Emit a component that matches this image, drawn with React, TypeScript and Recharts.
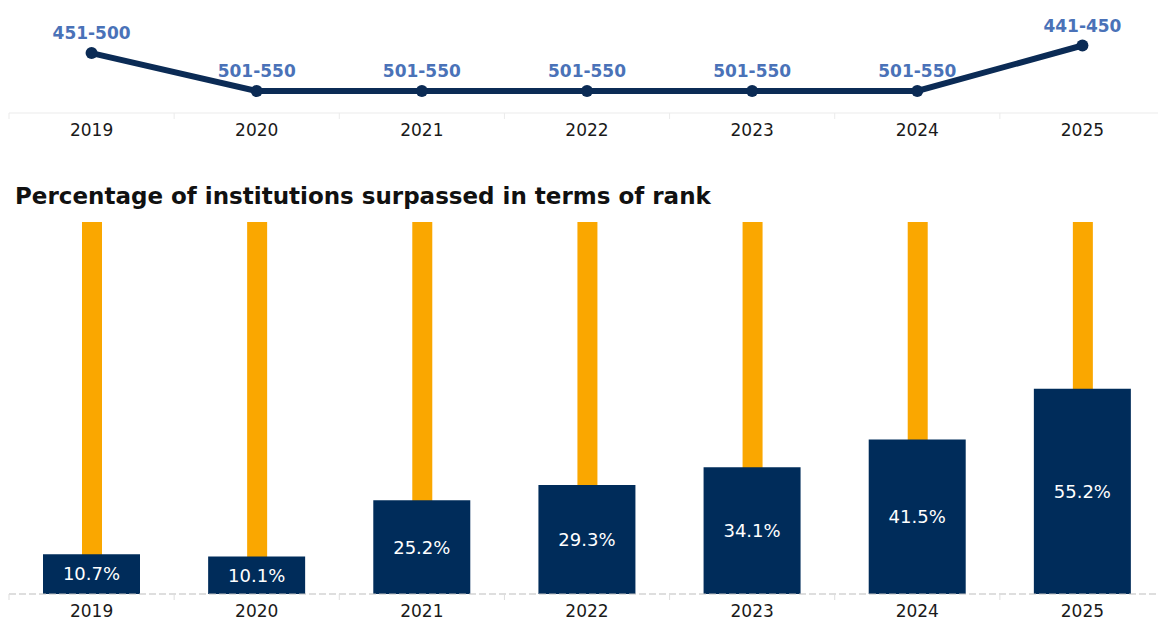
import { LineChart, Line, BarChart, Bar, XAxis, YAxis, LabelList } from 'recharts'

const years = ['2019', '2020', '2021', '2022', '2023', '2024', '2025']
// lower bound of each rank band, used for the line position
const rankLow = [451, 501, 501, 501, 501, 501, 441]
const rankLabels = ['451-500', '501-550', '501-550', '501-550', '501-550', '501-550', '441-450']
const surpassed = [10.7, 10.1, 25.2, 29.3, 34.1, 41.5, 55.2]
const fullScale = [100, 100, 100, 100, 100, 100, 100]

const rankData = years.map((year, i) => ({ year, rank: rankLow[i], label: rankLabels[i] }))
const pctData = years.map((year, i) => ({ year, pct: surpassed[i], full: fullScale[i] }))

const CHART_W = 1166
const LEFT = 9
const RIGHT = 1
const BAND = (CHART_W - LEFT - RIGHT) / years.length
const FONT = '"DejaVu Sans", Verdana, sans-serif'

function makeTick(tickColor: string) {
  return (props: any) => {
    const { x, y, payload } = props
    return (
      <g>
        <line x1={x - BAND / 2} x2={x - BAND / 2} y1={y - 8} y2={y - 2} stroke={tickColor} />
        <text x={x} y={y + 15} textAnchor="middle" fill="#1a1a1a" fontSize={17} fontFamily={FONT}>
          {payload.value}
        </text>
      </g>
    )
  }
}

function App() {
  return (
    <div
      style={{
        position: 'absolute',
        left: 0,
        top: 0,
        width: 1158,
        height: 622,
        overflow: 'hidden',
        background: '#fff',
        fontFamily: FONT,
      }}
    >
      <div style={{ position: 'absolute', left: 0, top: 0 }}>
        <LineChart width={CHART_W} height={145} data={rankData} margin={{ top: 0, right: RIGHT, left: LEFT, bottom: 0 }}>
          <XAxis
            dataKey="year"
            scale="band"
            height={32}
            axisLine={{ stroke: '#ebebeb' }}
            tickLine={false}
            tick={makeTick('#ebebeb')}
            interval={0}
          />
          <YAxis
            reversed
            domain={[381, 530]}
            width={0}
            tick={false}
            tickLine={false}
            axisLine={{ stroke: '#f0f0f0' }}
          />
          <Line
            dataKey="rank"
            stroke="#0b2b55"
            strokeWidth={6}
            dot={{ r: 6, fill: '#0b2b55', stroke: '#0b2b55', strokeWidth: 0 }}
            isAnimationActive={false}
          >
            <LabelList
              dataKey="label"
              position="top"
              offset={14}
              fill="#4a72b8"
              fontSize={17}
              fontWeight="bold"
              fontFamily={FONT}
            />
          </Line>
        </LineChart>
      </div>

      <div
        style={{
          position: 'absolute',
          left: 15,
          top: 182,
          fontSize: 23,
          lineHeight: '28px',
          fontWeight: 'bold',
          color: '#111',
          whiteSpace: 'nowrap',
        }}
      >
        Percentage of institutions surpassed in terms of rank
      </div>

      <div style={{ position: 'absolute', left: 0, top: 212 }}>
        <BarChart width={CHART_W} height={410} data={pctData} margin={{ top: 10, right: RIGHT, left: LEFT, bottom: 0 }}>
          <XAxis
            xAxisId="main"
            dataKey="year"
            height={28}
            axisLine={{ stroke: '#bdbdbd', strokeDasharray: '7 3' }}
            tickLine={false}
            tick={makeTick('#dddddd')}
            interval={0}
          />
          <XAxis xAxisId="bg" dataKey="year" orientation="top" height={0} hide />
          <YAxis domain={[0, 100]} hide />
          <Bar xAxisId="bg" dataKey="full" fill="#faa700" barSize={20} isAnimationActive={false} />
          <Bar xAxisId="main" dataKey="pct" fill="#002c5a" barSize={97} isAnimationActive={false}>
            <LabelList
              dataKey="pct"
              position="center"
              formatter={(v: any) => `${v}%`}
              fill="#fff"
              fontSize={18}
              fontFamily={FONT}
            />
          </Bar>
        </BarChart>
      </div>
    </div>
  )
}

export default App
